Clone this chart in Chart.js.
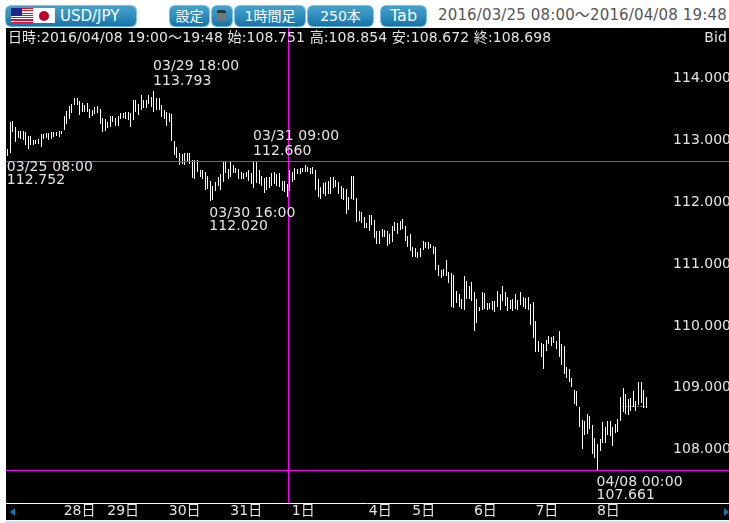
<!DOCTYPE html>
<html><head><meta charset="utf-8">
<script src="https://cdn.jsdelivr.net/npm/chart.js@4"></script>
<style>
html,body{margin:0;padding:0;background:#fff;overflow:hidden}
body{width:729px;height:523px;position:relative;font-family:"DejaVu Sans","Noto Sans CJK JP",sans-serif}
.btn{position:absolute;top:5px;height:20px;box-sizing:content-box;border:1px solid #7fc0e4;border-radius:6px;background:linear-gradient(#45a0cc,#2e8cbc 55%,#1572a8);color:#fff;font-size:14px;line-height:20px;text-align:center;border-bottom:1px solid #54b4e4}
#date{position:absolute;left:438px;top:6px;font-size:15px;line-height:19px;color:#555;white-space:nowrap;letter-spacing:.15px}
#wrap{position:absolute;left:6px;top:28px;width:723px;height:492px;background:#000}
#foot{position:absolute;left:5px;top:521px;width:724px;height:2px;background:#c4e0f2}
.fl{position:absolute;top:3px;height:15px;width:22px}
.ar{position:absolute;top:508px;width:0;height:0;border-top:4px solid transparent;border-bottom:4px solid transparent}
</style></head><body>
<div class="btn" style="left:5px;width:130px"></div>
<div class="fl" style="left:11px;top:8px;background:repeating-linear-gradient(#e0102a 0 1.15px,#fff 1.15px 2.3px)"></div>
<div class="fl" style="left:11px;top:8px;width:11px;height:8px;background:#23238e radial-gradient(#fff 0.5px,transparent 0.6px) 0 0/2px 2px"></div>
<div class="fl" style="left:33px;top:8px;background:#fff"></div>
<div class="fl" style="left:39px;top:11px;width:10px;height:10px;border-radius:50%;background:#bc002d"></div>
<div style="position:absolute;left:60px;top:6px;color:#fff;font-size:15px;line-height:20px">USD/JPY</div>
<div class="btn" style="left:169px;width:39px">設定</div>
<div class="btn" style="left:211px;width:20px"><span style="position:absolute;left:5px;top:4px;width:9px;height:11px;border-radius:2px;background:linear-gradient(#333 0 3px,#777 3px)"></span></div>
<div class="btn" style="left:234px;width:70px">1時間足</div>
<div class="btn" style="left:307px;width:65px">250本</div>
<div class="btn" style="left:380px;width:45px;font-size:16px">Tab</div>
<div id="date">2016/03/25 08:00～2016/04/08 19:48</div>
<div id="wrap"><canvas id="c" width="723" height="492" style="display:block"></canvas></div>
<div class="ar" style="left:10px;border-right:5px solid #1a78b0"></div>
<div class="ar" style="left:724px;border-left:5px solid #1a78b0"></div>
<div id="foot"></div>
<script>
const highs=[112.86,113.30,113.31,113.22,113.16,113.16,113.16,113.14,113.07,113.08,
113.01,113.01,113.03,113.10,113.11,113.12,113.12,113.14,113.14,113.14,
113.16,113.16,113.39,113.48,113.55,113.59,113.68,113.68,113.64,113.61,
113.57,113.60,113.51,113.50,113.54,113.55,113.51,113.37,113.34,113.30,
113.39,113.39,113.37,113.39,113.44,113.44,113.46,113.46,113.44,113.65,
113.65,113.59,113.73,113.66,113.66,113.73,113.71,113.793,113.68,113.68,
113.57,113.49,113.46,113.45,113.43,112.99,112.90,112.79,112.775,112.79,
112.79,112.79,112.69,112.68,112.68,112.53,112.53,112.49,112.43,112.35,
112.27,112.33,112.41,112.46,112.65,112.65,112.54,112.65,112.60,112.56,
112.54,112.49,112.47,112.49,112.52,112.47,112.66,112.65,112.52,112.43,
112.40,112.41,112.41,112.47,112.49,112.46,112.47,112.35,112.34,112.30,
112.53,112.49,112.56,112.54,112.56,112.56,112.60,112.57,112.56,112.57,
112.53,112.38,112.25,112.31,112.33,112.35,112.41,112.41,112.36,112.33,
112.27,112.23,112.22,112.09,112.43,112.42,112.07,111.86,111.84,111.77,
111.66,111.80,111.79,111.72,111.53,111.54,111.57,111.55,111.53,111.48,
111.61,111.68,111.66,111.69,111.73,111.61,111.46,111.48,111.28,111.26,
111.20,111.26,111.37,111.35,111.35,111.33,111.30,111.27,110.99,110.90,
110.92,111.06,110.87,110.85,110.83,110.56,110.51,110.44,110.80,110.72,
110.64,110.71,110.55,110.43,110.31,110.55,110.53,110.37,110.37,110.40,
110.41,110.57,110.51,110.64,110.55,110.47,110.42,110.44,110.51,110.42,
110.55,110.46,110.45,110.46,110.36,110.39,110.08,109.76,109.73,109.71,
109.77,109.84,109.82,109.84,109.76,109.91,109.70,109.68,109.34,109.31,
109.15,108.97,108.95,108.69,108.47,108.46,108.57,108.55,108.40,108.19,
108.09,108.17,108.45,108.37,108.46,108.46,108.37,108.42,108.49,108.85,
108.99,108.90,108.81,108.83,108.95,108.79,109.10,109.10,108.97,108.854];
const lows=[112.752,112.80,113.14,112.97,113.04,113.03,113.00,112.92,112.87,112.92,
112.92,112.94,112.94,112.90,113.03,113.04,113.00,113.03,113.06,113.08,
113.06,113.10,113.17,113.27,113.34,113.44,113.57,113.57,113.41,113.46,
113.46,113.46,113.37,113.39,113.43,113.44,113.27,113.14,113.16,113.21,
113.22,113.30,113.24,113.24,113.35,113.37,113.35,113.33,113.22,113.33,
113.46,113.41,113.49,113.52,113.53,113.59,113.54,113.46,113.49,113.49,
113.38,113.35,113.24,113.30,112.99,112.76,112.72,112.60,112.62,112.60,
112.65,112.62,112.39,112.38,112.49,112.41,112.38,112.20,112.22,112.02,
112.04,112.19,112.27,112.20,112.33,112.47,112.38,112.41,112.47,112.47,
112.38,112.38,112.38,112.41,112.35,112.29,112.23,112.31,112.30,112.27,
112.15,112.20,112.23,112.27,112.30,112.27,112.25,112.19,112.16,112.09,
112.19,112.33,112.36,112.46,112.46,112.49,112.49,112.49,112.46,112.46,
112.20,112.08,112.06,112.14,112.11,112.14,112.14,112.23,112.25,112.14,
112.06,112.04,111.81,111.87,112.06,112.03,111.68,111.69,111.66,111.58,
111.59,111.53,111.64,111.42,111.32,111.32,111.44,111.44,111.30,111.32,
111.35,111.53,111.49,111.55,111.57,111.37,111.28,111.22,111.11,111.11,
111.10,111.11,111.23,111.26,111.24,111.26,111.17,110.91,110.81,110.77,
110.81,110.81,110.69,110.31,110.29,110.37,110.31,110.27,110.25,110.44,
110.44,110.41,109.91,110.04,110.24,110.25,110.28,110.25,110.27,110.26,
110.23,110.31,110.26,110.41,110.33,110.24,110.27,110.24,110.27,110.26,
110.34,110.30,110.27,110.26,110.02,109.80,109.57,109.57,109.50,109.31,
109.60,109.70,109.68,109.72,109.63,109.49,109.36,109.23,109.15,109.10,
109.01,108.73,108.71,108.37,108.01,108.24,108.25,108.33,107.92,107.87,
107.661,107.98,108.11,108.10,108.24,108.22,108.06,108.27,108.29,108.46,
108.60,108.58,108.56,108.63,108.69,108.62,108.72,108.76,108.67,108.672];
const slotCount=282;
const dayTickIndex=[22,39,63,87,111,141,158,182,206,230];
const dayTicks=['28日','29日','30日','31日','1日','4日','5日','6日','7日','8日'];
const yTickValues=[108,109,110,111,112,113,114];
const noteIndex=[0,57,79,96,230];
const noteTime=['03/25 08:00','03/29 18:00','03/30 16:00','03/31 09:00','04/08 00:00'];
const noteValue=[112.752,113.793,112.020,112.660,107.661];
const noteAbove=[false,true,false,true,false];
const lineValues=[112.660,107.661];
const crossIndex=110;
const lastClose=108.698;
const lastCloseFrom=240;
const infoText='日時:2016/04/08 19:00～19:48 始:108.751 高:108.854 安:108.672 終:108.698';
const bidText='Bid';

const categories=new Array(slotCount).fill('');
dayTickIndex.forEach((idx,k)=>{categories[idx]=dayTicks[k];});
const FONT='14px "DejaVu Sans","Noto Sans CJK JP",sans-serif';

const overlay={
  id:'overlay',
  afterDatasetsUpdate(chart){
    chart.getDatasetMeta(0).data.forEach(el=>{
      el.x=Math.round(el.x)+0.5;
      el.y=Math.round(el.y);
      el.base=Math.round(el.base);
    });
  },
  afterDatasetsDraw(chart){
    const {ctx,chartArea:a,scales:{x,y}}=chart;
    ctx.save();
    ctx.strokeStyle='#ff00ff';ctx.lineWidth=1;
    lineValues.forEach(v=>{
      const py=Math.floor(y.getPixelForValue(v))+0.5;
      ctx.beginPath();ctx.moveTo(a.left,py);ctx.lineTo(a.right,py);ctx.stroke();
    });
    const cx=Math.floor(x.getPixelForValue(crossIndex)-0.5)+0.5;
    ctx.beginPath();ctx.moveTo(cx,a.top);ctx.lineTo(cx,a.bottom);ctx.stroke();
    ctx.strokeStyle='#fff';ctx.setLineDash([1,2]);
    const ly=Math.round(y.getPixelForValue(lastClose))+0.5;
    ctx.beginPath();ctx.moveTo(x.getPixelForValue(lastCloseFrom),ly);ctx.lineTo(x.getPixelForValue(249)+1,ly);ctx.stroke();
    ctx.setLineDash([]);
    ctx.fillStyle='#e4e4e4';ctx.font=FONT;ctx.textBaseline='middle';ctx.textAlign='left';
    ctx.letterSpacing='0.1px';
    noteIndex.forEach((idx,k)=>{
      const px=x.getPixelForValue(idx)-0.5, py=y.getPixelForValue(noteValue[k]);
      const a1=noteAbove[k]?py-25:py+12, a2=noteAbove[k]?py-10:py+25;
      ctx.fillText(noteTime[k],px,a1);
      ctx.fillText(noteValue[k].toFixed(3),px,a2);
    });
    ctx.fillText(infoText,2,10);
    ctx.textAlign='right';
    ctx.fillText(bidText,721,10);
    ctx.letterSpacing='0px';
    ctx.strokeStyle='#fff';
    ctx.beginPath();ctx.moveTo(a.left,a.bottom+0.5);ctx.lineTo(a.right,a.bottom+0.5);ctx.stroke();
    ctx.restore();
  }
};

new Chart(document.getElementById('c'),{
  type:'bar',
  data:{labels:categories,datasets:[{label:'USD/JPY',data:lows.map((l,i)=>[l,highs[i]]),backgroundColor:'#ffffff',barThickness:1,borderWidth:0,borderSkipped:false,inflateAmount:0}]},
  plugins:[overlay],
  options:{
    responsive:false,animation:false,
    layout:{padding:0},
    plugins:{legend:{display:false},tooltip:{enabled:false}},
    scales:{
      x:{
        type:'category',
        grid:{display:false,drawTicks:false},border:{display:false},
        afterFit(s){s.height=17;s.paddingLeft=0;s.paddingRight=0;},
        ticks:{autoSkip:false,maxRotation:0,minRotation:0,align:'start',padding:0,color:'#e4e4e4',font:{size:14,family:'"DejaVu Sans","Noto Sans CJK JP",sans-serif'},
          callback(v){return categories[v]||null;}}
      },
      y:{
        position:'right',min:107.135,max:114.820,
        grid:{display:false,drawTicks:false,tickLength:0},border:{display:false},
        afterFit(s){s.width=0;s.paddingTop=0;s.paddingBottom=0;},
        afterBuildTicks(s){s.ticks=yTickValues.map(v=>({value:v}));},
        ticks:{mirror:true,padding:2,color:'#e4e4e4',font:{size:14,family:'"DejaVu Sans",sans-serif'},
          callback(v){return Number(v).toFixed(3);}}
      }
    }
  }
});
</script>
</body></html>
